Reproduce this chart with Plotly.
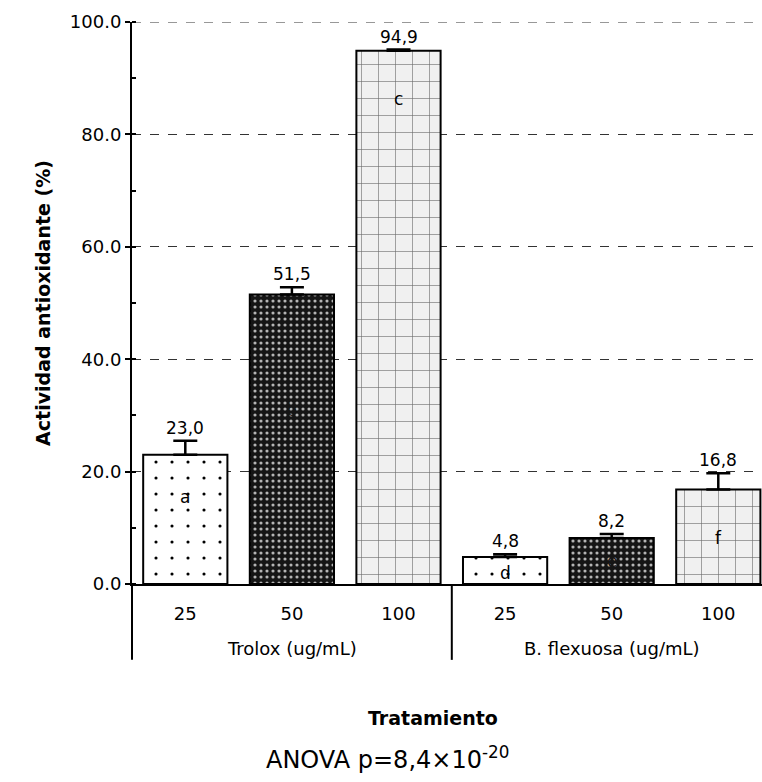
import plotly.graph_objects as go

# ---- data ----
groups = ["Trolox (ug/mL)", "Trolox (ug/mL)", "Trolox (ug/mL)",
          "B. flexuosa (ug/mL)", "B. flexuosa (ug/mL)", "B. flexuosa (ug/mL)"]
concentrations = ["25", "50", "100", "25", "50", "100"]
values = [23.0, 51.5, 94.9, 4.8, 8.2, 16.8]
errors_up = [2.5, 1.3, 0.2, 0.5, 0.7, 2.9]
letters = ["a", "b", "c", "d", "e", "f"]
y_ticks = [0, 20, 40, 60, 80, 100]

# ---- style (one fill style per concentration) ----
FONT = "DejaVu Sans, Liberation Sans, Arial, sans-serif"
letter_frac = [0.67, 0.6, 0.91, 0.42, 0.5, 0.49]
letter_colors = ["black", "#161616", "black", "black", "#161616", "black"]
styles = {
    "25": dict(shape=".", bg="#ffffff", fg="#000000", size=16, solidity=0.03, mode="overlay"),
    "50": dict(shape=".", bg="#151515", fg="#b4b4b4", size=6, solidity=0.22, mode="overlay"),
    "100": dict(shape="+", bg="#f0f0f0", fg="#6a6a6a", size=17, solidity=0.07, mode="overlay"),
}

x_idx = list(range(len(values)))

fig = go.Figure()
for conc in dict.fromkeys(concentrations):
    idx = [i for i, c in enumerate(concentrations) if c == conc]
    st = styles[conc]
    fig.add_trace(go.Bar(
        x=idx, y=[values[i] for i in idx], width=0.79,
        marker=dict(
            color=st["bg"],
            line=dict(color="black", width=2),
            pattern=dict(shape=st["shape"], fgcolor=st["fg"], fgopacity=1,
                         size=st["size"], solidity=st["solidity"], fillmode=st["mode"]),
        ),
        error_y=dict(type="data", symmetric=False, array=[errors_up[i] for i in idx],
                     arrayminus=[0] * len(idx), color="black",
                     thickness=2.5, width=12),
        showlegend=False,
    ))

annotations = []
for i, (v, e) in enumerate(zip(values, errors_up)):
    annotations.append(dict(
        x=i, y=v + e, xref="x", yref="y", text=f"{v:.1f}".replace(".", ","),
        showarrow=False, yanchor="bottom", yshift=1,
        font=dict(family=FONT, size=17, color="black")))
    annotations.append(dict(
        x=i, y=v * letter_frac[i], xref="x", yref="y", text=letters[i],
        showarrow=False, font=dict(family=FONT, size=17, color=letter_colors[i])))

# group labels
for g in dict.fromkeys(groups):
    idx = [i for i, gg in enumerate(groups) if gg == g]
    annotations.append(dict(
        x=sum(idx) / len(idx), y=-0.114, xref="x", yref="paper", text=g,
        showarrow=False, yanchor="middle",
        font=dict(family=FONT, size=18, color="black")))

annotations.append(dict(
    x=0.478, y=-0.238, xref="paper", yref="paper", text="<b>Tratamiento</b>",
    showarrow=False, yanchor="middle", font=dict(family=FONT, size=19, color="black")))
annotations.append(dict(
    x=0.405, y=-0.31, xref="paper", yref="paper",
    text="ANOVA p=8,4×10<sup>-20</sup>",
    showarrow=False, yanchor="middle", font=dict(family=FONT, size=24, color="black")))

shapes = [
    dict(type="line", xref="paper", yref="paper", x0=0, x1=0, y0=0, y1=-0.135,
         line=dict(color="black", width=2)),
    dict(type="line", xref="x", yref="paper", x0=2.5, x1=2.5, y0=0, y1=-0.135,
         line=dict(color="black", width=2)),
    # top gridline (plotly hides the one on the plot edge)
    dict(type="line", xref="paper", yref="y", x0=0, x1=1, y0=y_ticks[-1], y1=y_ticks[-1],
         line=dict(color="#333333", width=1, dash="dash"), layer="below"),
]

fig.update_layout(
    width=762, height=782,
    margin=dict(l=132, r=0, t=22, b=198),
    paper_bgcolor="white", plot_bgcolor="white",
    font=dict(family=FONT, size=18, color="black"),
    annotations=annotations, shapes=shapes,
    barmode="overlay",
)
fig.update_xaxes(
    range=[-0.5, 5.41], tickmode="array", tickvals=x_idx, ticktext=concentrations,
    showline=True, linecolor="black", linewidth=2,
    ticks="outside", ticklen=12, tickcolor="rgba(0,0,0,0)",
    tickfont=dict(family=FONT, size=18, color="black"),
    showgrid=False, zeroline=False,
)
fig.update_yaxes(
    range=[0, 100], tickmode="array", tickvals=y_ticks, tickformat=".1f",
    showline=True, linecolor="black", linewidth=2,
    ticks="outside", ticklen=5, tickcolor="black", tickwidth=1.5,
    tickfont=dict(family=FONT, size=18, color="black"),
    showgrid=True, gridcolor="#333333", gridwidth=1, griddash="dash",
    zeroline=False,
    minor=dict(dtick=10, tick0=0, ticks="inside", ticklen=4, tickcolor="black", showgrid=False),
    title=dict(text="<b>Actividad antioxidante (%)</b>", standoff=14,
               font=dict(family=FONT, size=19, color="black")),
)

fig.write_html("out.html", config={"displayModeBar": False},
               post_script="document.body.style.margin='0';document.body.style.padding='0';")
